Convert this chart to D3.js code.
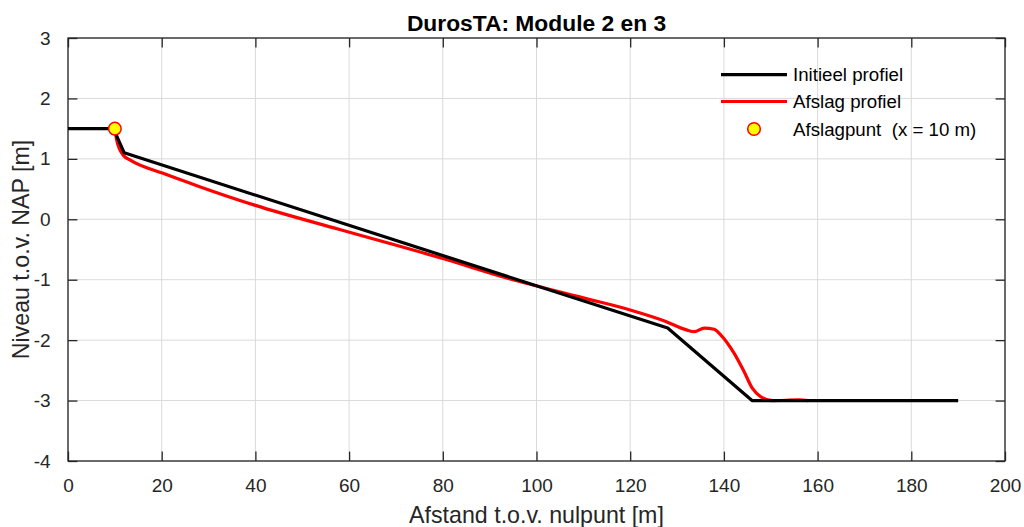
<!DOCTYPE html>
<html>
<head>
<meta charset="utf-8">
<script src="https://cdn.jsdelivr.net/npm/d3@7"></script>
<style>
  html, body { margin: 0; padding: 0; background: #fff; }
  svg { display: block; font-family: "Liberation Sans", Arial, sans-serif; }
</style>
</head>
<body>
<svg id="chart" width="1024" height="527"></svg>
<script>
// Initial cross-shore profile (distance [m], level [m NAP])
const initX = [0, 9.7, 12, 128, 146, 190];
const initY = [1.5, 1.5, 1.1, -1.8, -3.0, -3.0];

// Eroded profile after the storm
const erosX = [10, 10.4, 11.8, 13.3, 20.3, 28.1, 40, 58, 80, 94, 110, 120, 127.6, 132, 133.7, 135.8, 137.9, 139.4, 142.2, 144.3, 146.1, 147.9, 150.4, 156, 158];
const erosY = [1.5, 1.31, 1.06, 0.98, 0.76, 0.54, 0.23, -0.17, -0.65, -0.98, -1.30, -1.50, -1.69, -1.83, -1.86, -1.80, -1.82, -1.92, -2.22, -2.52, -2.80, -2.94, -3.00, -2.99, -3.00];

// Erosion point
const pointX = [10];
const pointY = [1.5];

const xTicks = [0, 20, 40, 60, 80, 100, 120, 140, 160, 180, 200];
const yTicks = [-4, -3, -2, -1, 0, 1, 2, 3];

const titleText = "DurosTA: Module 2 en 3";
const xLabel = "Afstand t.o.v. nulpunt [m]";
const yLabel = "Niveau t.o.v. NAP [m]";
const legendLabels = ["Initieel profiel", "Afslag profiel", "Afslagpunt  (x = 10 m)"];

const svg = d3.select("#chart");
const pLeft = 68, pRight = 1005, pTop = 38, pBottom = 461;

const x = d3.scaleLinear().domain([0, 200]).range([pLeft, pRight]);
const y = d3.scaleLinear().domain([-4, 3]).range([pBottom, pTop]);

const axisColor = "#262626";
const tickLen = 9.4;

// grid
const grid = svg.append("g");
grid.selectAll("line.gx").data(xTicks).join("line")
  .attr("x1", d => x(d)).attr("x2", d => x(d))
  .attr("y1", pTop).attr("y2", pBottom)
  .attr("stroke", "#dadada").attr("stroke-width", 1);
grid.selectAll("line.gy").data(yTicks).join("line")
  .attr("x1", pLeft).attr("x2", pRight)
  .attr("y1", d => y(d)).attr("y2", d => y(d))
  .attr("stroke", "#dadada").attr("stroke-width", 1);

// axes with inward ticks on all four sides; plain hyphen for negatives
const fmt = d => String(d);
const axB = svg.append("g").attr("transform", `translate(0,${pBottom})`)
  .call(d3.axisBottom(x).tickValues(xTicks).tickFormat(fmt).tickSizeInner(-tickLen).tickSizeOuter(0).tickPadding(tickLen + 8));
const axT = svg.append("g").attr("transform", `translate(0,${pTop})`)
  .call(d3.axisTop(x).tickValues(xTicks).tickFormat("").tickSizeInner(-tickLen).tickSizeOuter(0));
const axL = svg.append("g").attr("transform", `translate(${pLeft},0)`)
  .call(d3.axisLeft(y).tickValues(yTicks).tickFormat(fmt).tickSizeInner(-tickLen).tickSizeOuter(0).tickPadding(tickLen + 8));
const axR = svg.append("g").attr("transform", `translate(${pRight},0)`)
  .call(d3.axisRight(y).tickValues(yTicks).tickFormat("").tickSizeInner(-tickLen).tickSizeOuter(0));

[axB, axT, axL, axR].forEach(g => {
  g.select(".domain").remove();
  g.selectAll(".tick line").attr("stroke", axisColor).attr("stroke-width", 1.3);
  g.selectAll("text").attr("fill", axisColor).style("font-size", "19px")
    .style("font-family", "'Liberation Sans', Arial, sans-serif");
});
axB.selectAll("text").attr("dy", "0.71em");

// box
svg.append("rect")
  .attr("x", pLeft).attr("y", pTop)
  .attr("width", pRight - pLeft).attr("height", pBottom - pTop)
  .attr("fill", "none").attr("stroke", axisColor).attr("stroke-width", 1.3);

// profiles
const line = d3.line().x(d => x(d[0])).y(d => y(d[1]));
const smoothLine = d3.line().x(d => x(d[0])).y(d => y(d[1])).curve(d3.curveMonotoneX);
const erosData = erosX.map((v, i) => [v, erosY[i]]);
const initData = initX.map((v, i) => [v, initY[i]]);

svg.append("path").datum(erosData).attr("d", smoothLine)
  .attr("fill", "none").attr("stroke", "#ff0000").attr("stroke-width", 3.2)
  .attr("stroke-linejoin", "round");
svg.append("path").datum(initData).attr("d", line)
  .attr("fill", "none").attr("stroke", "#000000").attr("stroke-width", 3.2)
  .attr("stroke-linejoin", "round");

svg.selectAll("circle.pt").data(pointX.map((v, i) => [v, pointY[i]])).join("circle")
  .attr("cx", d => x(d[0])).attr("cy", d => y(d[1])).attr("r", 6.3)
  .attr("fill", "#ffff00").attr("stroke", "#ff0000").attr("stroke-width", 1.5);

// title and labels
svg.append("text").attr("x", (pLeft + pRight) / 2).attr("y", 31)
  .attr("text-anchor", "middle").style("font-size", "22.8px").style("font-weight", "bold")
  .attr("fill", "#000").text(titleText);
svg.append("text").attr("x", (pLeft + pRight) / 2).attr("y", 523)
  .attr("text-anchor", "middle").style("font-size", "23.2px")
  .attr("fill", axisColor).text(xLabel);
svg.append("text").attr("transform", `translate(29,${(pTop + pBottom) / 2}) rotate(-90)`)
  .attr("text-anchor", "middle").style("font-size", "23.2px")
  .attr("fill", axisColor).text(yLabel);

// legend
const legY = [74.7, 101.5, 129];
const leg = svg.append("g");
leg.append("line").attr("x1", 721).attr("x2", 787).attr("y1", legY[0]).attr("y2", legY[0])
  .attr("stroke", "#000").attr("stroke-width", 3.2);
leg.append("line").attr("x1", 721).attr("x2", 787).attr("y1", legY[1]).attr("y2", legY[1])
  .attr("stroke", "#ff0000").attr("stroke-width", 3.2);
leg.append("circle").attr("cx", 754).attr("cy", legY[2]).attr("r", 6.3)
  .attr("fill", "#ffff00").attr("stroke", "#ff0000").attr("stroke-width", 1.5);
leg.selectAll("text").data(legendLabels).join("text")
  .attr("x", 793).attr("y", (d, i) => legY[i]).attr("dy", "0.35em")
  .style("font-size", "18.7px").style("white-space", "pre").attr("fill", "#000")
  .text(d => d);
</script>
</body>
</html>
